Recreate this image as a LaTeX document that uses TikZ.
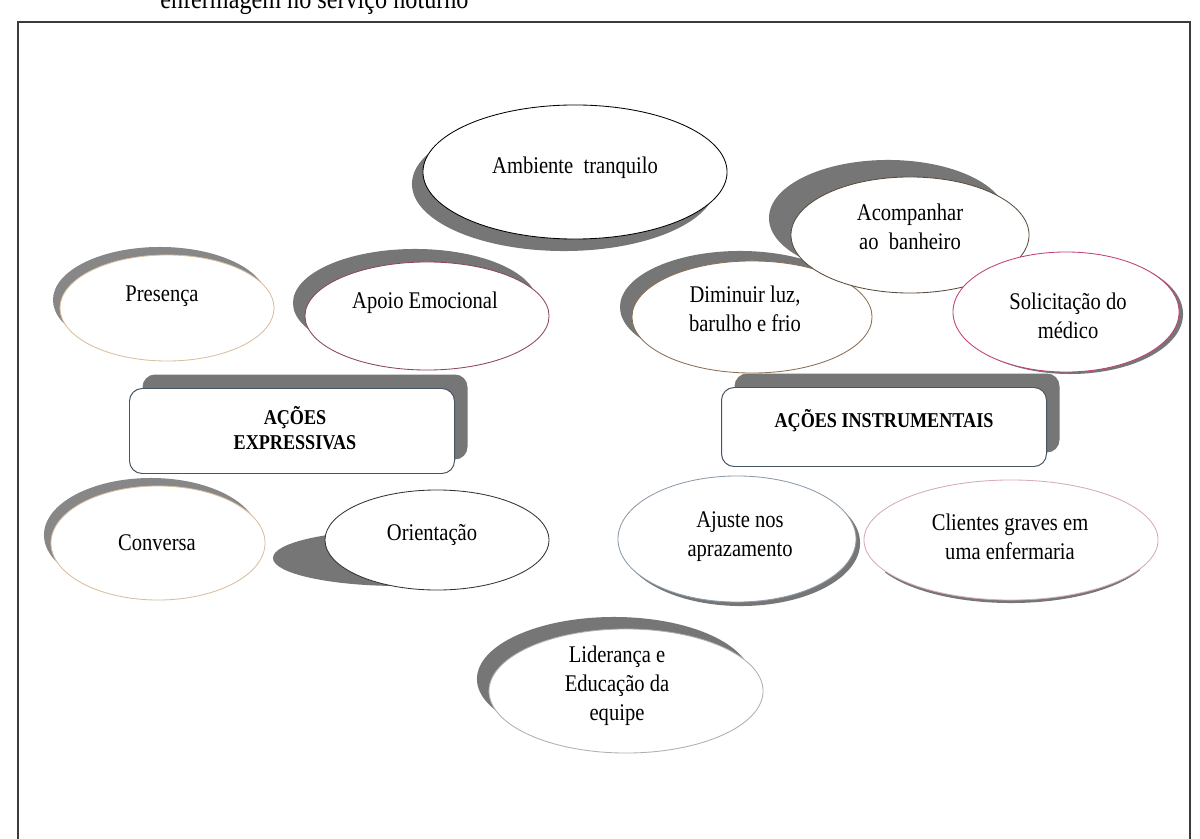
\documentclass[tikz,border=0pt]{standalone}
\usepackage{fontspec}
\setmainfont{Liberation Serif}[FakeStretch=0.86]
\usetikzlibrary{shapes.geometric}
\definecolor{shad}{RGB}{118,118,118}
\definecolor{shadlt}{RGB}{135,135,135}
\definecolor{frame}{RGB}{60,60,60}
\definecolor{tan}{RGB}{218,190,160}
\definecolor{maroon}{RGB}{140,70,85}
\definecolor{dbrown}{RGB}{90,75,60}
\definecolor{lbrown}{RGB}{140,110,80}
\definecolor{magen}{RGB}{192,64,122}
\definecolor{slate}{RGB}{140,155,170}
\definecolor{pinklt}{RGB}{215,170,185}
\definecolor{grylt}{RGB}{175,175,175}
\definecolor{boxline}{RGB}{70,85,100}
\begin{document}
\begin{tikzpicture}[x=0.025cm,y=-0.025cm,
  sz/.style 2 args={minimum width={#1*0.05cm}, minimum height={#2*0.05cm}},
  oval/.style={ellipse, draw=#1, fill=white, line width=0.6pt, inner sep=0pt},
  shade/.style={ellipse, fill=#1, draw=none, inner sep=0pt},
  lbl/.style={align=center, inner sep=0pt, font=\fontsize{17}{20.5}\selectfont},
  blbl/.style={align=center, inner sep=0pt, font=\fontsize{15}{17.5}\selectfont\bfseries},
  rbox/.style={rectangle, rounded corners=9pt, draw=boxline, fill=white, line width=0.7pt, minimum width=325*0.025cm},
  rshadow/.style={rectangle, rounded corners=9pt, fill=shad, draw=none, minimum width=325*0.025cm}]
\useasboundingbox (0,0) rectangle (1200,839);
\clip (0,0) rectangle (1200,839);
\fill[white] (0,0) rectangle (1200,839);

% frame and cut title
\draw[frame, line width=0.9pt] (18,900) -- (18,22) -- (1190,22) -- (1190,900);
\node[anchor=base west, inner sep=0pt, font=\fontsize{20}{24}\selectfont] (title) at (160,9) {enfermagem no serviço noturno};

% Ambiente tranquilo
\node[shade=shad, sz={152}{67}] (ambS) at (564,184) {};
\node[oval=black, sz={152}{67}] (amb) at (575,172) {};
\node[lbl] (ambT) at (575,168) {Ambiente\ \ tranquilo};

% Presenca
\node[shade=shadlt, sz={107}{53}] (presS) at (160,300) {};
\node[oval=tan, sz={107}{53}] (pres) at (167,308) {};
\node[lbl] (presT) at (162,296) {Presença};

% Apoio Emocional
\node[shade=shad, sz={122}{54}] (apoS) at (415,303) {};
\node[oval=maroon, sz={122}{54}] (apo) at (427,316) {};
\node[lbl] (apoT) at (425,303) {Apoio Emocional};

% Diminuir
\node[shade=shad, sz={120}{56}] (dimS) at (740,307) {};
\node[oval=lbrown, sz={120}{56}] (dim) at (752,317) {};
\node[lbl] (dimT) at (745,309) {Diminuir luz,\\barulho e frio};

% Acompanhar
\node[shade=shad, sz={119}{58}] (acoS) at (888,218) {};
\node[oval=dbrown, sz={119}{58}] (aco) at (910,235) {};
\node[lbl] (acoT) at (910,227) {Acompanhar\\ao\ \ banheiro};

% Solicitacao
\node[shade=shad, sz={113}{60}] (solS) at (1070,314) {};
\node[oval=magen, sz={113}{60}] (sol) at (1066,312) {};
\node[lbl] (solT) at (1068,316) {Solicitação do\\médico};

% boxes
\node[rshadow, minimum height=85*0.025cm] (exS) at (305,417) {};
\node[rbox, minimum height=85*0.025cm] (ex) at (292,431) {};
\node[blbl] (exT) at (295,428) {AÇÕES\\EXPRESSIVAS};

\node[rshadow, minimum height=79*0.025cm] (inS) at (897,413) {};
\node[rbox, minimum height=79*0.025cm] (in) at (884,427) {};
\node[blbl] (inT) at (884,421) {AÇÕES INSTRUMENTAIS};

% Conversa
\node[shade=shadlt, sz={107}{57}] (conS) at (151,535) {};
\node[oval=tan, sz={107}{57}] (con) at (158,543) {};
\node[lbl] (conT) at (157,543) {Conversa};

% Orientacao
\node[shade=shad, sz={127}{28}] (oriS) at (400,558) {};
\node[oval=black!80, sz={112}{50}] (ori) at (437,540) {};
\node[lbl] (oriT) at (432,535) {Orientação};

% Ajuste
\node[shade=shad, sz={119}{63}] (ajuS) at (741,543) {};
\node[oval=slate, sz={119}{63}] (aju) at (737,539) {};
\node[lbl] (ajuT) at (740,537) {Ajuste nos\\aprazamento};

% Clientes
\begin{scope}
\clip (885,560) rectangle (1140,620);
\node[shade=shad, sz={143}{58}] (cliS) at (1011,545) {};
\end{scope}
\node[oval=pinklt, sz={147}{60}] (cli) at (1011,540) {};
\node[lbl] (cliT) at (1010,537) {Clientes graves em\\uma enfermaria};

% Lideranca
\node[shade=shad, sz={137}{62}] (lidS) at (614,679) {};
\node[oval=grylt, sz={137}{62}] (lid) at (626,691) {};
\node[lbl] (lidT) at (617,686) {Liderança e\\Educação da\\equipe};
\end{tikzpicture}
\end{document}
